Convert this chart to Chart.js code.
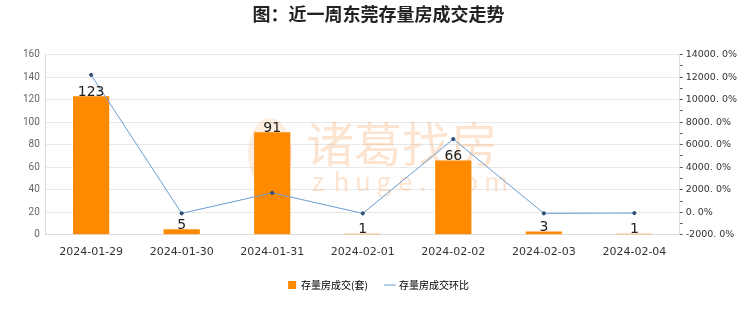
<!DOCTYPE html>
<html>
<head>
<meta charset="utf-8">
<script src="https://cdn.jsdelivr.net/npm/chart.js@4.4.1/dist/chart.umd.min.js"></script>
<style>
  html, body { margin: 0; padding: 0; background: #fff; }
  #wrap { width: 740px; height: 312px; }
</style>
</head>
<body>
<div id="wrap"><canvas id="chart" width="740" height="312"></canvas></div>
<script>
// data
const dates = ['2024-01-29', '2024-01-30', '2024-01-31', '2024-02-01', '2024-02-02', '2024-02-03', '2024-02-04'];
const deals = [123, 5, 91, 1, 66, 3, 1];
const ratio = [12200, -95.9, 1720, -98.9, 6500, -95.5, -66.7];

const fontName = '"Noto Sans CJK SC", "Noto Sans", sans-serif';

// watermark behind bars
const watermark = {
  id: 'watermark',
  beforeDatasetsDraw(chart) {
    const c = chart.ctx;
    c.save();
    c.fillStyle = 'rgba(246, 170, 110, 0.32)';
    c.font = '48px ' + fontName;
    c.textBaseline = 'middle';
    c.fillText('诸葛找房', 306, 144);
    c.font = '26px ' + fontName;
    const s = 'zhuge.com';
    for (let i = 0; i < s.length; i++) {
      c.fillText(s[i], 312 + i * 21.5, 181);
    }
    // flame icon
    c.beginPath();
    c.ellipse(270, 154, 22, 36, 0, 0, Math.PI * 2);
    c.fillStyle = 'rgba(246, 170, 110, 0.2)';
    c.fill();
    c.restore();
  }
};

// numbers above bars
const barLabels = {
  id: 'barLabels',
  afterDatasetsDraw(chart) {
    const c = chart.ctx;
    const meta = chart.getDatasetMeta(0);
    c.save();
    c.fillStyle = '#222';
    c.font = '14px "DejaVu Sans", sans-serif';
    c.textAlign = 'center';
    c.textBaseline = 'bottom';
    meta.data.forEach((bar, i) => {
      c.fillText(deals[i], bar.x, bar.y + 3);
    });
    c.restore();
  }
};

const chart = new Chart(document.getElementById('chart'), {
  data: {
    labels: dates,
    datasets: [
      {
        type: 'bar',
        label: '存量房成交(套)',
        data: deals,
        backgroundColor: '#ff8a00',
        yAxisID: 'y',
        barPercentage: 0.4,
        categoryPercentage: 1.0,
        order: 2
      },
      {
        type: 'line',
        label: '存量房成交环比',
        data: ratio,
        borderColor: '#6b9bcf',
        borderWidth: 1,
        backgroundColor: '#2f4f7a',
        pointBackgroundColor: '#2f4f7a',
        pointBorderColor: '#2f4f7a',
        pointRadius: 1.6,
        tension: 0,
        yAxisID: 'y1',
        order: 1
      }
    ]
  },
  options: {
    responsive: false,
    animation: false,
    layout: { padding: { left: 17, right: 0, top: 0, bottom: 12 } },
    plugins: {
      title: {
        display: true,
        text: '图：近一周东莞存量房成交走势',
        color: '#222',
        font: { family: fontName, size: 18, weight: 'bold' },
        padding: { top: 3, bottom: 30 }
      },
      legend: {
        position: 'bottom',
        labels: {
          color: '#333',
          font: { family: fontName, size: 10 },
          boxWidth: 8,
          boxHeight: 8,
          usePointStyle: true,
          padding: 18,
          generateLabels(chart) {
            return [
              { text: '存量房成交(套)', fillStyle: '#ff8a00', strokeStyle: '#ff8a00', lineWidth: 0, pointStyle: 'rect', datasetIndex: 0 },
              { text: '存量房成交环比', fillStyle: '#2f4f7a', strokeStyle: '#6b9bcf', lineWidth: 1, pointStyle: 'line', datasetIndex: 1 }
            ];
          }
        }
      },
      tooltip: { enabled: false }
    },
    scales: {
      x: {
        grid: { display: false },
        border: { color: '#ddd' },
        ticks: { color: '#333', font: { family: '"DejaVu Sans", sans-serif', size: 11 }, maxRotation: 0, padding: 3 }
      },
      y: {
        position: 'left',
        min: 0, max: 160,
        ticks: { stepSize: 20, color: '#666', font: { family: 'Roboto, sans-serif', size: 10 }, padding: 6 },
        grid: { color: '#e8e8e8', drawTicks: false },
        border: { color: '#ddd' }
      },
      y1: {
        position: 'right',
        min: -2000, max: 14000,
        ticks: {
          stepSize: 1000,
          autoSkip: false,
          color: '#333',
          font: { family: '"DejaVu Sans", sans-serif', size: 9.5 },
          padding: 3,
          callback: v => (v % 2000 === 0 ? v.toFixed(0) + '. 0%' : '')
        },
        grid: { drawOnChartArea: false, tickLength: 3, color: '#555' },
        border: { color: '#ddd' }
      }
    }
  },
  plugins: [watermark, barLabels]
});
</script>
</body>
</html>
